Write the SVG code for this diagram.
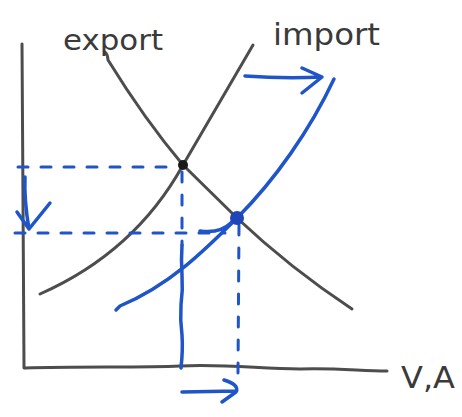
<svg xmlns="http://www.w3.org/2000/svg" width="462" height="417" viewBox="0 0 462 417">
<style>
.g{fill:none;stroke:#4d4d4d;stroke-width:3;stroke-linecap:round;stroke-linejoin:round}
.b{fill:none;stroke:#1f55c9;stroke-width:3.5;stroke-linecap:round;stroke-linejoin:round}
.d{fill:none;stroke:#1f55c9;stroke-width:3;stroke-linecap:round;stroke-dasharray:10 13}
.t{font-family:"DejaVu Sans","Liberation Sans",sans-serif;fill:#3a3a3a}
</style>
<rect width="462" height="417" fill="#ffffff"/>
<g id="axes">
<path class="g" d="M22,44 L23,200 L24,368"/>
<path class="g" d="M25,368 C80,366 140,368 180,366 C230,364 260,369 300,369 C340,368 360,371 387,371"/>
<text class="t" x="401" y="388" font-size="31" textLength="54" lengthAdjust="spacingAndGlyphs">V,A</text>
</g>
<g id="export-curve">
<path class="g" d="M105,52 Q108,55 108,60 Q145,120 183,165 L237,218 Q290,268 352,309"/>
<text class="t" x="63" y="50" font-size="28" textLength="100" lengthAdjust="spacingAndGlyphs">export</text>
</g>
<g id="import-curve">
<path class="g" d="M253,45 Q218,105 183,165 Q135,252 40,294"/>
<text class="t" x="273" y="45" font-size="30" textLength="107" lengthAdjust="spacingAndGlyphs">import</text>
</g>
<g id="new-import-curve">
<path class="b" d="M334,79 C310,130 275,180 237,218 C205,250 170,285 120,306 L116,310"/>
</g>
<g id="connectors">
<path class="d" d="M18,167 L178,167"/>
<path class="d" d="M15,233 L225,233"/>
<path class="b" d="M200,231 Q220,234 232,222" stroke-width="3"/>
<path class="d" d="M182,172 L182,245"/>
<path class="b" stroke-width="2.5" d="M182,245 Q181,260 182,275 Q183,290 181,305 Q180,320 182,335 Q183,350 181,368"/>
<path class="d" d="M239,225 L238,373" stroke-dasharray="13 12"/>
<path class="b" d="M25,177 Q24,200 29,229 M17,212 L29,229 L50,203"/>
<path class="b" d="M245,76 Q285,79 322,77 M302,68 L322,77 L302,93"/>
<path class="b" d="M182,392 L236,391 M224,380 Q240,385 236,392 L222,402"/>
</g>
<g id="equilibrium-old"><circle cx="183" cy="165" r="5" fill="#1a1a1a"/></g>
<g id="equilibrium-new"><circle cx="237" cy="218" r="7" fill="#1e46b8"/></g>
</svg>
